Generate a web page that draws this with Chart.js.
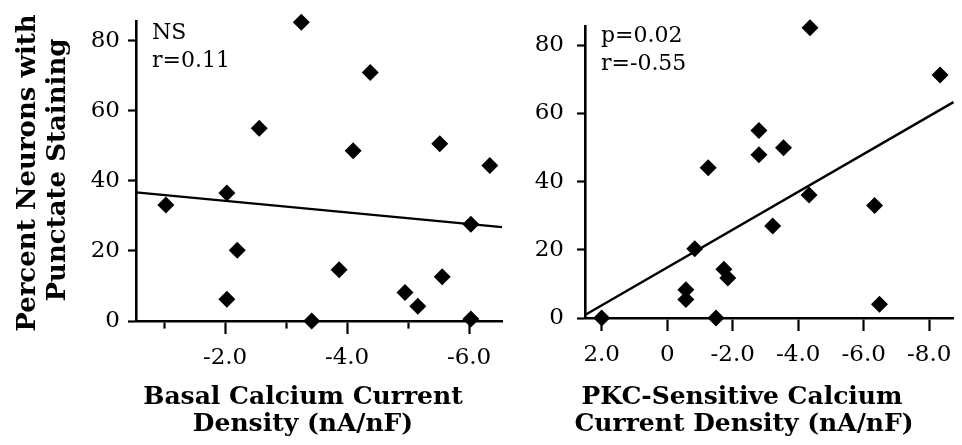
<!DOCTYPE html>
<html>
<head>
<meta charset="utf-8">
<script src="https://cdn.jsdelivr.net/npm/chart.js@4.4.0/dist/chart.umd.min.js"></script>
<style>
  html, body { margin: 0; padding: 0; background: #fff; overflow: hidden; }
  #wrap { position: relative; width: 962px; height: 445px; }
  canvas { position: absolute; top: 0; }
  #basalChart { left: 0; }
  #pkcChart { left: 520px; }
</style>
</head>
<body>
<div id="wrap">
  <canvas id="basalChart" width="520" height="445"></canvas>
  <canvas id="pkcChart" width="442" height="445"></canvas>
</div>
<script>
// values
const yTicks = [0, 20, 40, 60, 80];

// left panel: basal current density vs % neurons
const basalX = [-1.03, -2.03, -2.2, -2.03, -2.56, -3.25, -3.42, -3.87, -4.1, -4.38, -4.95, -5.16, -5.52, -5.56, -6.03, -6.03, -6.34];
const basalY = [33.1, 36.5, 20.2, 6.2, 55, 85.3, 0, 14.6, 48.6, 70.9, 8.1, 4.2, 50.6, 12.6, 27.6, 0.6, 44.4];
const basalFitX = [-0.54, -6.54];
const basalFitY = [36.7, 26.8];
const basalMajorTicks = [-6, -4, -2];
const basalMinorTicks = [-5, -3, -1];

// right panel: PKC-sensitive current density vs % neurons
const pkcX = [2.0, -0.57, -0.57, -0.84, -1.25, -1.49, -1.73, -1.85, -2.8, -2.8, -3.22, -3.55, -4.33, -4.36, -6.33, -6.48, -8.33];
const pkcY = [0, 8.3, 5.4, 20.3, 44.1, 0, 14.3, 11.7, 55, 47.9, 27, 49.9, 36.1, 85.1, 33, 4, 71.3];
const pkcFitX = [2.51, -8.74];
const pkcFitY = [0.9, 63.3];
const pkcTicks = [-8, -6, -4, -2, 0, 2];

const serif = '"DejaVu Serif", "Liberation Serif", serif';

// draws titles and the stats text
const figText = {
  id: 'figText',
  afterDraw(chart, args, opts) {
    const ctx = chart.ctx;
    (opts.items || []).forEach(it => {
      ctx.save();
      ctx.fillStyle = '#000';
      ctx.font = it.font;
      ctx.textAlign = it.align || 'left';
      ctx.textBaseline = 'alphabetic';
      ctx.translate(it.x, it.y);
      if (it.rotate) ctx.rotate(it.rotate);
      ctx.fillText(it.text, 0, 0);
      ctx.restore();
    });
  }
};

function toPoints(xs, ys) {
  return xs.map((x, i) => ({ x: x, y: ys[i] }));
}

function panel(canvasId, o) {
  return new Chart(document.getElementById(canvasId), {
    type: 'scatter',
    data: {
      datasets: [{
        data: toPoints(o.xs, o.ys),
        pointStyle: 'rectRot',
        pointRadius: 8.5,
        backgroundColor: '#000',
        borderColor: '#000',
        borderWidth: 0,
        clip: false
      }, {
        type: 'line',
        data: toPoints(o.fitX, o.fitY),
        borderColor: '#000',
        borderWidth: 2.4,
        pointRadius: 0,
        fill: false,
        clip: false
      }]
    },
    options: {
      responsive: false,
      animation: false,
      layout: { padding: { top: o.top, right: o.right, left: 0, bottom: 0 } },
      plugins: {
        legend: { display: false },
        tooltip: { enabled: false },
        figText: { items: o.text }
      },
      scales: {
        x: {
          type: 'linear',
          reverse: true,
          min: o.xMin,
          max: o.xMax,
          afterBuildTicks: s => { s.ticks = o.xTicks.map(v => ({ value: v })); },
          afterFit: s => { s.height = o.xHeight; },
          grid: {
            drawOnChartArea: false,
            tickLength: 13,
            tickWidth: 2.2,
            tickColor: '#000',
            tickBorderDash: c => (o.minor.includes(c.tick && c.tick.value) ? [6, 30] : [])
          },
          border: { display: true, color: '#000', width: 2.6 },
          ticks: {
            color: '#000',
            font: { family: serif, size: 23 },
            padding: 10,
            maxRotation: 0,
            autoSkip: false,
            callback: v => o.minor.includes(v) ? '' : (v === 0 ? '0' : v.toFixed(1))
          }
        },
        y: {
          min: 0,
          max: 85.4,
          afterBuildTicks: s => { s.ticks = yTicks.map(v => ({ value: v })); },
          afterFit: s => { s.width = o.yWidth; },
          grid: {
            drawOnChartArea: false,
            tickLength: 8,
            tickWidth: 2.2,
            tickColor: '#000'
          },
          border: { display: true, color: '#000', width: 2.6 },
          ticks: {
            color: '#000',
            font: { family: serif, size: 23 },
            padding: o.yPad
          }
        }
      }
    },
    plugins: [figText]
  });
}

const titleFont = 'bold 25px ' + serif;
const yTitleFont = 'bold 26px ' + serif;
const statFont = '22px ' + serif;

panel('basalChart', {
  xs: basalX, ys: basalY, fitX: basalFitX, fitY: basalFitY,
  xMin: -6.54, xMax: -0.54,
  xTicks: basalMinorTicks.concat(basalMajorTicks),
  minor: basalMinorTicks,
  top: 17, right: 18, xHeight: 124, yWidth: 136, yPad: 8,
  text: [
    { text: 'Basal Calcium Current', x: 303, y: 404, align: 'center', font: titleFont },
    { text: 'Density (nA/nF)', x: 303, y: 431, align: 'center', font: titleFont },
    { text: 'NS', x: 152, y: 39, font: statFont },
    { text: 'r=0.11', x: 152, y: 67, font: statFont },
    { text: 'Percent Neurons with', x: 35, y: 173, align: 'center', rotate: -Math.PI / 2, font: yTitleFont },
    { text: 'Punctate Staining', x: 65, y: 170, align: 'center', rotate: -Math.PI / 2, font: yTitleFont }
  ]
});

panel('pkcChart', {
  xs: pkcX, ys: pkcY, fitX: pkcFitX, fitY: pkcFitY,
  xMin: -8.74, xMax: 2.51,
  xTicks: pkcTicks,
  minor: [],
  top: 20, right: 0, xHeight: 127, yWidth: 65, yPad: 13,
  text: [
    { text: 'PKC-Sensitive Calcium', x: 222, y: 404, align: 'center', font: titleFont },
    { text: 'Current Density (nA/nF)', x: 224, y: 431, align: 'center', font: titleFont },
    { text: 'p=0.02', x: 81, y: 42, font: statFont },
    { text: 'r=-0.55', x: 81, y: 70, font: statFont }
  ]
});
</script>
</body>
</html>
